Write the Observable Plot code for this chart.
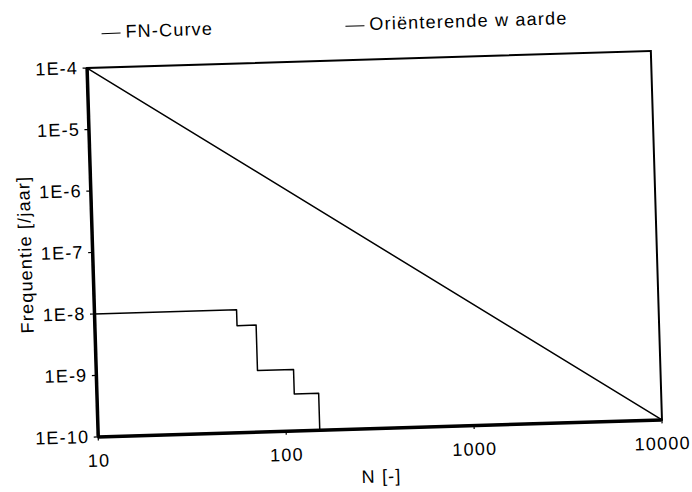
<!DOCTYPE html>
<html>
<head>
<meta charset="utf-8">
<script src="https://cdn.jsdelivr.net/npm/d3@7"></script>
<script src="https://cdn.jsdelivr.net/npm/@observablehq/plot@0.6"></script>
<style>
  html, body { margin: 0; padding: 0; background: #fff; }
  #wrap { position: relative; width: 692px; height: 492px; transform: rotate(-1.73deg); transform-origin: 374px 243px; font-family: "Liberation Sans", Arial, sans-serif; color: #000; }
  #legend { position: relative; width: 692px; height: 40px; font-size: 18px; letter-spacing: 1.2px; }
  .item { position: absolute; top: 13px; line-height: 22px; white-space: nowrap; }
  .sw { display: inline-block; width: 19px; border-top: 1.5px solid #000; vertical-align: middle; margin-right: 5px; }
  svg { display: block; }
</style>
</head>
<body>
<div id="wrap">
  <div id="legend"></div>
  <div id="chart"></div>
</div>
<script>
// Data
const seriesNames = ["FN-Curve", "Oriënterende w aarde"];
const fnN = [10, 57, 72, 112, 151];
const fnF = [1e-8, 5.5e-9, 1e-9, 4e-10, 1e-10];
const refN = [10, 10000];
const refF = [1e-4, 1e-10];
const xTicks = [10, 100, 1000, 10000];
const xTickLabels = ["10", "100", "1000", "10000"];
const yTicks = [1e-4, 1e-5, 1e-6, 1e-7, 1e-8, 1e-9, 1e-10];
const yTickLabels = ["1E-4", "1E-5", "1E-6", "1E-7", "1E-8", "1E-9", "1E-10"];
const xLabel = "N [-]";
const yLabel = "Frequentie [/jaar]";

const fnData = fnN.map((n, i) => ({N: n, F: fnF[i]}));
const refData = refN.map((n, i) => ({N: n, F: refF[i]}));

// Legend
const legend = document.getElementById("legend");
const legendX = [108, 352];
seriesNames.forEach((name, i) => {
  const d = document.createElement("div");
  d.className = "item";
  d.style.left = legendX[i] + "px";
  d.innerHTML = '<span class="sw"></span>' + name;
  legend.appendChild(d);
});

const font = "Liberation Sans, Arial, sans-serif";
const chart = Plot.plot({
  width: 692,
  height: 452,
  marginTop: 19,
  marginBottom: 64,
  marginLeft: 92,
  marginRight: 36,
  style: {fontFamily: font, fontSize: "18px", letterSpacing: "1.2px", color: "#000", background: "#fff"},
  x: {type: "log", domain: [10, 10000]},
  y: {type: "log", domain: [1e-10, 1e-4]},
  marks: [
    Plot.frame({stroke: "#000", strokeWidth: 2}),
    Plot.axisX(xTicks, {tickSize: 4, tickPadding: 13, tickFormat: (d) => xTickLabels[xTicks.indexOf(d)], label: null, fontSize: 18, strokeWidth: 1.2}),
    Plot.axisY(yTicks, {tickSize: 4, tickPadding: 5, tickFormat: (d) => yTickLabels[yTicks.indexOf(d)], label: null, fontSize: 18, strokeWidth: 1.2}),
    Plot.ruleX([10], {stroke: "#000", strokeWidth: 3.5}),
    Plot.ruleY([1e-10], {stroke: "#000", strokeWidth: 3.5}),
    Plot.line(refData, {x: "N", y: "F", stroke: "#000", strokeWidth: 1.5}),
    Plot.line(fnData, {x: "N", y: "F", curve: "step-after", stroke: "#000", strokeWidth: 1.5}),
    Plot.text([yLabel], {frameAnchor: "left", textAnchor: "middle", dx: -67, rotate: -90, fontSize: 18, fill: "#000"}),
    Plot.text([xLabel], {frameAnchor: "bottom", dy: 54, fontSize: 18, fill: "#000"})
  ]
});
document.getElementById("chart").appendChild(chart);
</script>
</body>
</html>
